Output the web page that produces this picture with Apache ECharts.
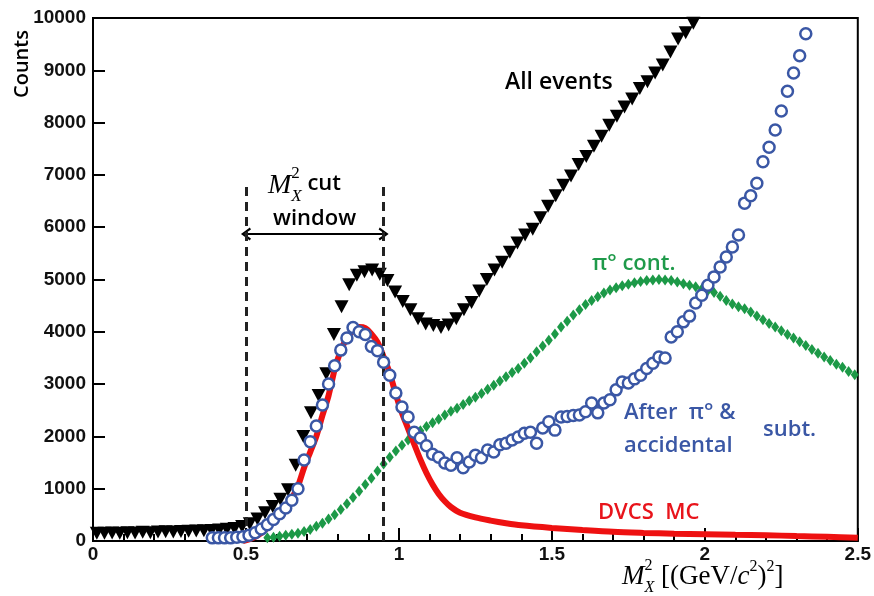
<!DOCTYPE html>
<html><head><meta charset="utf-8">
<script src="https://cdn.jsdelivr.net/npm/echarts@6/dist/echarts.min.js"></script>
<style>html,body{margin:0;padding:0;background:#fff}#c{width:874px;height:596px}</style>
</head><body><div id="c"></div>
<script>
// ---------------- data ----------------
const xTicks = [0, 0.5, 1, 1.5, 2, 2.5];
const yTicks = [0, 1000, 2000, 3000, 4000, 5000, 6000, 7000, 8000, 9000, 10000];

const allEventsX = [0.0125,0.0375,0.0625,0.0875,0.1125,0.1375,0.1625,0.1875,0.2125,0.2375,0.2625,0.2875,0.3125,0.3375,0.3625,0.3875,0.4125,0.4375,0.4625,0.4875,0.5125,0.5375,0.5625,0.5875,0.6125,0.6375,0.6625,0.6875,0.7125,0.7375,0.7625,0.7875,0.8125,0.8375,0.8625,0.8875,0.9125,0.9375,0.9625,0.9875,1.0125,1.0375,1.0625,1.0875,1.1125,1.1375,1.1625,1.1875,1.2125,1.2375,1.2625,1.2875,1.3125,1.3375,1.3625,1.3875,1.4125,1.4375,1.4625,1.4875,1.5125,1.5375,1.5625,1.5875,1.6125,1.6375,1.6625,1.6875,1.7125,1.7375,1.7625,1.7875,1.8125,1.8375,1.8625,1.8875,1.9125,1.9375,1.9625];
const allEventsY = [150,150,155,150,160,155,165,160,170,175,170,180,185,190,195,200,210,225,240,275,330,420,540,660,800,980,1450,2000,2450,2780,3200,3950,4480,4900,5080,5150,5180,5100,4980,4760,4580,4420,4250,4150,4120,4080,4130,4250,4420,4560,4780,5000,5180,5330,5520,5700,5850,5960,6180,6400,6600,6800,6980,7200,7350,7550,7740,7950,8120,8300,8450,8650,8780,8950,9100,9350,9600,9720,9900];

const subtractedX = [0.39,0.41,0.43,0.45,0.47,0.49,0.51,0.53,0.55,0.57,0.59,0.61,0.63,0.65,0.67,0.69,0.71,0.73,0.75,0.77,0.79,0.81,0.83,0.85,0.87,0.89,0.91,0.93,0.95,0.97,0.99,1.01,1.03,1.05,1.07,1.09,1.11,1.13,1.15,1.17,1.19,1.21,1.23,1.25,1.27,1.29,1.31,1.33,1.35,1.37,1.39,1.41,1.43,1.45,1.47,1.49,1.51,1.53,1.55,1.57,1.59,1.61,1.63,1.65,1.67,1.69,1.71,1.73,1.75,1.77,1.79,1.81,1.83,1.85,1.87,1.89,1.91,1.93,1.95,1.97,1.99,2.01,2.03,2.05,2.07,2.09,2.11,2.13,2.15,2.17,2.19,2.21,2.23,2.25,2.27,2.29,2.31,2.33];
const subtractedY = [60,60,60,60,70,80,110,160,230,310,410,520,630,780,1000,1550,1900,2200,2600,3000,3350,3650,3880,4080,4000,3950,3720,3640,3420,3170,2830,2560,2370,2080,1970,1820,1660,1600,1490,1450,1590,1400,1510,1640,1590,1740,1700,1840,1870,1930,1990,2060,2080,1870,2160,2280,2120,2370,2380,2400,2410,2470,2640,2450,2640,2700,2890,3040,3020,3100,3170,3300,3400,3520,3500,3900,4000,4190,4300,4550,4700,4890,5050,5240,5430,5620,5850,6460,6600,6840,7250,7530,7860,8220,8600,8950,9280,9700];

const pi0X = [0.57,0.59,0.61,0.63,0.65,0.67,0.69,0.71,0.73,0.75,0.77,0.79,0.81,0.83,0.85,0.87,0.89,0.91,0.93,0.95,0.97,0.99,1.01,1.03,1.05,1.07,1.09,1.11,1.13,1.15,1.17,1.19,1.21,1.23,1.25,1.27,1.29,1.31,1.33,1.35,1.37,1.39,1.41,1.43,1.45,1.47,1.49,1.51,1.53,1.55,1.57,1.59,1.61,1.63,1.65,1.67,1.69,1.71,1.73,1.75,1.77,1.79,1.81,1.83,1.85,1.87,1.89,1.91,1.93,1.95,1.97,1.99,2.01,2.03,2.05,2.07,2.09,2.11,2.13,2.15,2.17,2.19,2.21,2.23,2.25,2.27,2.29,2.31,2.33,2.35,2.37,2.39,2.41,2.43,2.45,2.47,2.49];
const pi0Y = [60,70,90,110,130,150,180,220,280,340,420,500,600,710,830,950,1080,1200,1340,1470,1600,1720,1830,1930,2030,2110,2190,2260,2330,2410,2480,2540,2610,2680,2750,2820,2900,2980,3060,3140,3220,3300,3400,3500,3620,3730,3840,3960,4090,4200,4320,4420,4520,4600,4670,4740,4800,4840,4880,4910,4940,4960,4980,4990,5000,4990,4980,4950,4920,4890,4860,4820,4790,4750,4680,4600,4530,4480,4440,4380,4300,4230,4160,4090,4020,3950,3880,3810,3740,3660,3590,3520,3450,3380,3320,3240,3180];

const dvcsX = [0.49,0.51,0.53,0.55,0.57,0.59,0.61,0.63,0.65,0.67,0.69,0.71,0.73,0.75,0.77,0.79,0.81,0.83,0.85,0.87,0.89,0.91,0.93,0.95,0.97,0.99,1.01,1.03,1.05,1.07,1.09,1.11,1.13,1.15,1.17,1.20,1.25,1.30,1.35,1.40,1.50,1.60,1.70,1.80,1.90,2.00,2.10,2.20,2.30,2.40,2.50];
const dvcsY = [0,30,80,150,250,370,500,640,820,1050,1400,1700,2000,2400,2780,3280,3640,3880,4030,4090,4070,3960,3800,3520,3210,2800,2450,2150,1850,1560,1300,1080,900,760,650,540,450,390,340,300,250,210,175,155,140,130,120,110,95,80,60];

const cutWindow = [0.5, 0.95];
const cutLineTop = 6800;
const arrowLevel = 5870;

// ---------------- helpers ----------------
const zip = (xs, ys) => xs.map((x, i) => [x, ys[i]]);
const mctx = document.createElement('canvas').getContext('2d');
function cssFont(p){ return (p.style||'normal')+' '+(p.weight||'normal')+' '+p.size+'px '+p.family; }
function tw(p){ mctx.font = cssFont(p); return mctx.measureText(p.t).width; }
function layout(items, x0, anchorRight){
  let total = 0;
  items.forEach(it => { it.w = tw(it); if (it.adv !== false) total += it.w; });
  let x = anchorRight ? x0 - total : x0;
  const out = [];
  items.forEach(it => {
    out.push({type:'text', x:x, y:it.y, silent:true, z:100,
      style:{text:it.t, fill:it.color||'#000', fontSize:it.size, fontFamily:it.family,
             fontStyle:it.style||'normal', fontWeight:it.weight||'normal',
             align:'left', verticalAlign:'middle'}});
    if (it.adv !== false) x += it.w;
  });
  return out;
}
const SERIF = '"Liberation Serif", "DejaVu Serif", serif';
const SANS = '"Open Sans", "Liberation Sans", sans-serif';

const xTitle = layout([
  {t:'M', size:27, style:'italic', family:SERIF, y:577},
  {t:'2', size:16, family:SERIF, y:566, adv:false},
  {t:'X', size:16, style:'italic', family:SERIF, y:588},
  {t:' [(GeV/', size:27, family:SERIF, y:577},
  {t:'c', size:27, style:'italic', family:SERIF, y:577},
  {t:'2', size:16, family:SERIF, y:567},
  {t:')', size:27, family:SERIF, y:577},
  {t:'2', size:16, family:SERIF, y:567},
  {t:']', size:27, family:SERIF, y:577}
], 622, false);

const cutTitle = layout([
  {t:'M', size:28, style:'italic', family:SERIF, y:186},
  {t:'2', size:17, family:SERIF, y:174, adv:false},
  {t:'X', size:17, style:'italic', family:SERIF, y:197},
  {t:' cut', size:22, weight:600, family:SANS, y:184}
], 268, false);

function label(t, x, y, color, size){
  return {type:'text', x:x, y:y, silent:true, z:100,
    style:{text:t, fill:color, fontSize:size||22, fontWeight:600, fontFamily:SANS, align:'left', verticalAlign:'middle'}};
}

const graphics = [].concat(xTitle, cutTitle, [
  label('window', 273, 219, '#000'),
  label('All events', 505, 82, '#000', 23),
  label('π° cont.', 592, 264, '#1f9a4a'),
  label('After  π° &', 624, 413, '#3a57a5'),
  label('accidental', 624, 446, '#3a57a5'),
  label('subt.', 763, 430, '#3a57a5'),
  label('DVCS  MC', 598, 513, '#e8141b'),
  {type:'text', x:22, y:64, rotation:Math.PI/2, silent:true, z:100,
   style:{text:'Counts', fill:'#000', fontSize:20, fontWeight:600, fontFamily:SANS, align:'center', verticalAlign:'middle'}}
]);

const chevron = 'path://M5,0 L10,8 L8.4,9 L5,3.2 L1.6,9 L0,8 Z';
const tickFont = '"Liberation Sans", Arial, sans-serif';

const chart = echarts.init(document.getElementById('c'), null, {renderer:'canvas'});
chart.setOption({
  animation:false,
  backgroundColor:'#fff',
  grid:{left:93, right:16, top:18, bottom:55, show:true, borderColor:'#000', borderWidth:2},
  xAxis:{type:'value', min:xTicks[0], max:xTicks[xTicks.length-1], interval:0.5,
    axisLine:{show:true, onZero:false, lineStyle:{color:'#000', width:2}},
    axisTick:{show:true, inside:true, length:13, lineStyle:{color:'#000', width:2}},
    minorTick:{show:true, splitNumber:5, length:7, lineStyle:{color:'#000', width:2}},
    splitLine:{show:false}, minorSplitLine:{show:false},
    axisLabel:{color:'#111', fontSize:19, fontWeight:'bold', fontFamily:tickFont, margin:4,
      formatter:v => String(v)}},
  yAxis:{type:'value', min:yTicks[0], max:yTicks[yTicks.length-1], interval:1000,
    axisLine:{show:true, lineStyle:{color:'#000', width:2}},
    axisTick:{show:true, inside:true, length:12, lineStyle:{color:'#000', width:2}},
    splitLine:{show:false},
    axisLabel:{color:'#111', fontSize:19, fontWeight:'bold', fontFamily:tickFont, margin:7,
      formatter:v => String(v)}},
  graphic:graphics,
  series:[
    {name:'π° cont.', type:'scatter', data:zip(pi0X, pi0Y), symbol:'diamond', symbolSize:[8,11], z:2,
     itemStyle:{color:'#1c9947', opacity:1}, silent:true,
     markLine:{silent:true, symbol:[chevron, chevron], symbolSize:[13,10], label:{show:false},
       lineStyle:{color:'#000', width:2, type:'solid', opacity:1},
       data:[[{coord:[cutWindow[0], arrowLevel]},{coord:[cutWindow[1], arrowLevel]}]]}},
    {name:'DVCS MC', type:'line', data:zip(dvcsX, dvcsY), smooth:0.3, showSymbol:false, z:3,
     lineStyle:{color:'#ee1111', width:6}, silent:true,
     markLine:{silent:true, symbol:['none','none'], label:{show:false},
       lineStyle:{color:'#222', width:3, type:[9,6], opacity:1},
       data:[[{coord:[cutWindow[0],0]},{coord:[cutWindow[0],cutLineTop]}],
             [{coord:[cutWindow[1],0]},{coord:[cutWindow[1],cutLineTop]}]]}},
    {name:'All events', type:'scatter', data:zip(allEventsX, allEventsY), symbol:'triangle', symbolRotate:180,
     symbolSize:[14,13], z:4, itemStyle:{color:'#000', opacity:1}, silent:true},
    {name:'After subt.', type:'scatter', data:zip(subtractedX, subtractedY), symbol:'circle', symbolSize:11, z:5,
     itemStyle:{color:'#fff', borderColor:'#3a57a5', borderWidth:2.5, opacity:1}, silent:true}
  ]
});
</script>
</body></html>
